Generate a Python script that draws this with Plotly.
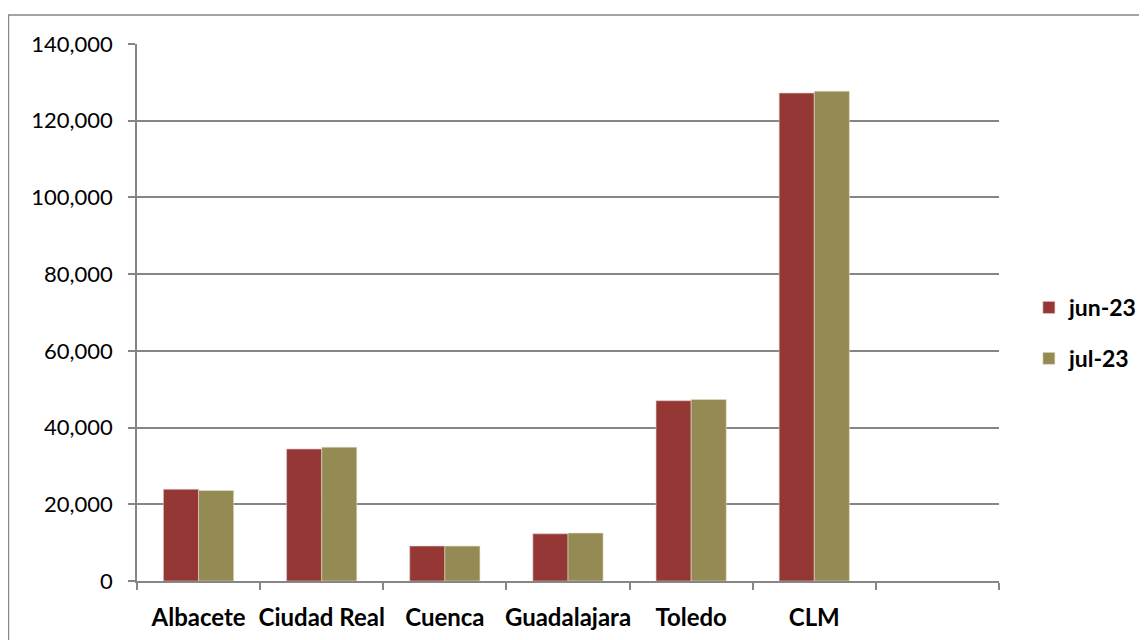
import plotly.graph_objects as go

categories = ["Albacete", "Ciudad Real", "Cuenca", "Guadalajara", "Toledo", "CLM"]
jun_23 = [23900, 34400, 9100, 12300, 47000, 127200]
jul_23 = [23600, 34900, 9100, 12500, 47300, 127700]
series_names = ["jun-23", "jul-23"]
y_ticks = [0, 20000, 40000, 60000, 80000, 100000, 120000, 140000]
y_tick_labels = ["0", "20,000", "40,000", "60,000", "80,000", "100,000", "120,000", "140,000"]

n_slots = len(categories) + 1  # empty slot at right, as in the original
xpos = list(range(len(categories)))

# plot area in figure pixels
L, T, W, H = 129, 36, 865, 537
FONT = "Lato, 'Open Sans', sans-serif"
fig = go.Figure()
fig.add_trace(go.Bar(x=xpos, y=jun_23, name=series_names[0], legendgroup="a",
                     marker=dict(color="#953735", line=dict(color="#d9c4c4", width=0.6))))
fig.add_trace(go.Bar(x=xpos, y=jul_23, name=series_names[1], legendgroup="b",
                     marker=dict(color="#948A54", line=dict(color="#e6e0c8", width=0.6))))

fig.update_layout(
    width=1147, height=640,
    margin=dict(l=L, r=1147 - L - W, t=T, b=640 - T - H),
    paper_bgcolor="white", plot_bgcolor="white",
    barmode="group", bargap=0.43, bargroupgap=0,
    font=dict(family=FONT, size=22, color="black"),
    legend=dict(x=(1024 - L) / W, y=(T + H - 325) / H, xanchor="left", yanchor="middle",
                font=dict(size=23, family=FONT, weight="bold"),
                traceorder="grouped", tracegroupgap=18, itemwidth=30),
    xaxis=dict(range=[-0.5, n_slots - 0.5], tickvals=xpos, ticktext=categories,
               ticks="", showgrid=False, showline=True, linecolor="#868686", linewidth=1.5,
               tickfont=dict(size=24, family=FONT, weight="bold"), ticklabelstandoff=14,
               minor=dict(tickvals=[i - 0.5 for i in range(n_slots + 1)], ticks="outside",
                          ticklen=7, tickcolor="#868686", tickwidth=1.5, showgrid=False),
               zeroline=False),
    yaxis=dict(range=[0, 140000], tickvals=y_ticks, ticktext=y_tick_labels,
               showgrid=True, gridcolor="#868686", gridwidth=1.5,
               showline=True, linecolor="#868686", linewidth=1.5,
               ticks="outside", ticklen=7, tickcolor="#868686", tickwidth=1.5,
               ticklabelstandoff=11,
               zeroline=False, tickfont=dict(size=22, family=FONT)),
)

fig.add_shape(type="rect", xref="paper", yref="paper",
              x0=(0 - L) / W, x1=(1160 - L) / W,
              y0=-(660 - T - H) / H, y1=(T + H - 7) / H,
              line=dict(color="#868686", width=1.5), layer="below")

fig.write_html("out.html")
